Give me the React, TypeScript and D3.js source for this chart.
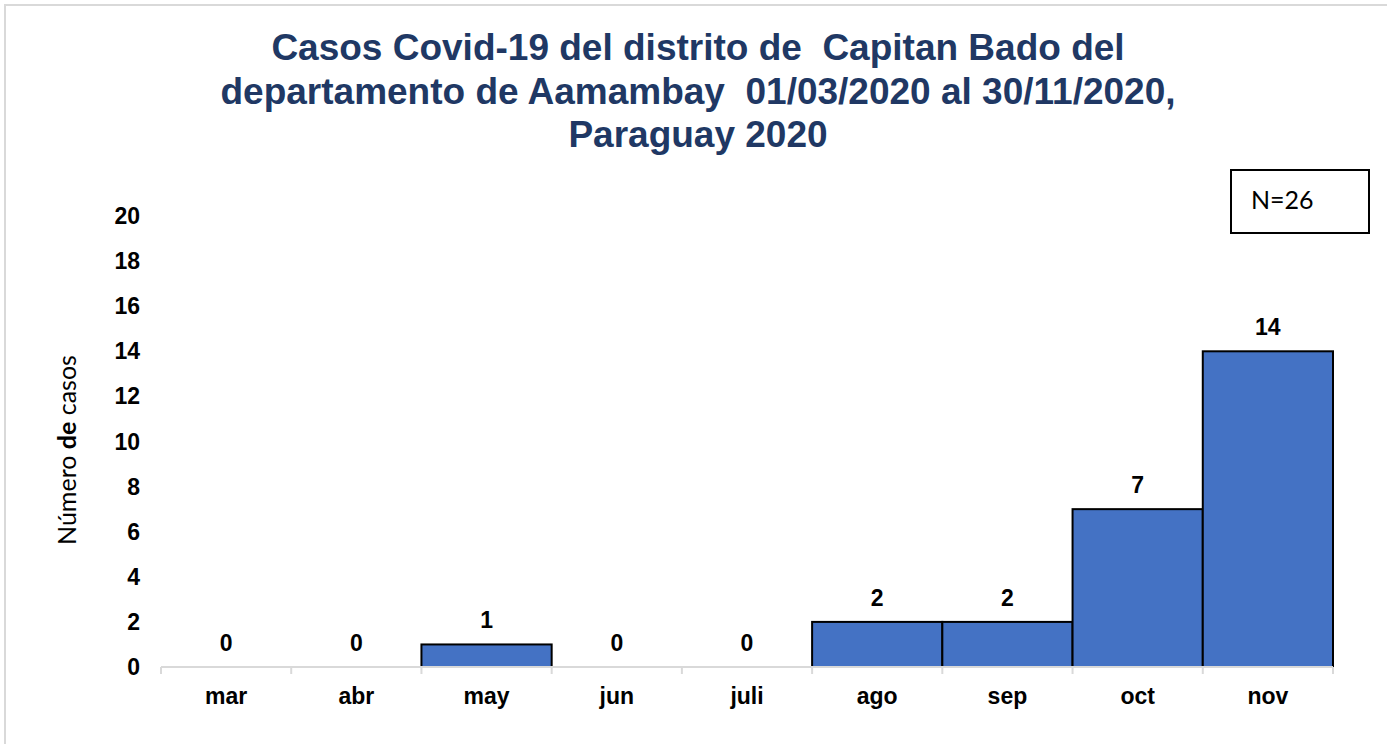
import React, { useEffect, useRef } from 'react';
import * as d3 from 'd3';

const months: string[] = ['mar', 'abr', 'may', 'jun', 'juli', 'ago', 'sep', 'oct', 'nov'];
const cases: number[] = [0, 0, 1, 0, 0, 2, 2, 7, 14];
const yTicks: number[] = [0, 2, 4, 6, 8, 10, 12, 14, 16, 18, 20];
const titleLines: string[] = [
  'Casos Covid-19 del distrito de  Capitan Bado del',
  'departamento de Aamambay  01/03/2020 al 30/11/2020,',
  'Paraguay 2020',
];
const totalLabel = 'N=26';

const W = 1387;
const H = 744;
const ARIAL = 'Liberation Sans, Arial, sans-serif';
const CALIBRI = 'Lato, Open Sans, sans-serif';

export default function App() {
  const ref = useRef<SVGSVGElement | null>(null);

  useEffect(() => {
    const svg = d3.select(ref.current);
    svg.selectAll('*').remove();

    // outer chart frame
    svg.append('rect')
      .attr('x', 5).attr('y', 5)
      .attr('width', W).attr('height', H)
      .attr('fill', '#ffffff')
      .attr('stroke', '#d9d9d9')
      .attr('stroke-width', 2);

    const left = 161, right = 1333, top = 216, bottom = 667;

    const x = d3.scaleBand<string>().domain(months).range([left, right]).padding(0);
    const y = d3.scaleLinear().domain([0, 20]).range([bottom, top]);
    const rows = months.map((m, i) => ({ m, v: cases[i] }));

    // title
    svg.append('text')
      .attr('text-anchor', 'middle')
      .attr('font-family', ARIAL)
      .attr('font-weight', 'bold')
      .attr('font-size', 37)
      .attr('fill', '#203864')
      .style('white-space', 'pre')
      .selectAll('tspan')
      .data(titleLines)
      .enter()
      .append('tspan')
      .attr('x', 698)
      .attr('y', (d, i) => 60 + i * 43.5)
      .text(d => d);

    // bars
    svg.append('g')
      .selectAll('rect')
      .data(rows.filter(d => d.v > 0))
      .enter()
      .append('rect')
      .attr('x', d => x(d.m)!)
      .attr('y', d => y(d.v))
      .attr('width', x.bandwidth())
      .attr('height', d => bottom - y(d.v))
      .attr('fill', '#4472c4')
      .attr('stroke', '#000000')
      .attr('stroke-width', 2);

    // x axis line + category separators
    const xAxis = svg.append('g').attr('transform', `translate(0,${bottom})`);
    xAxis.append('line')
      .attr('x1', left).attr('x2', right)
      .attr('y1', 0).attr('y2', 0)
      .attr('stroke', '#d9d9d9').attr('stroke-width', 2);
    xAxis.selectAll('line.sep')
      .data(d3.range(months.length + 1))
      .enter()
      .append('line')
      .attr('class', 'sep')
      .attr('x1', i => left + i * x.step())
      .attr('x2', i => left + i * x.step())
      .attr('y1', 0).attr('y2', 7)
      .attr('stroke', '#d9d9d9').attr('stroke-width', 2);

    svg.append('g')
      .selectAll('text')
      .data(months)
      .enter()
      .append('text')
      .attr('x', d => x(d)! + x.bandwidth() / 2)
      .attr('y', 704)
      .attr('text-anchor', 'middle')
      .attr('font-family', ARIAL)
      .attr('font-weight', 'bold')
      .attr('font-size', 23)
      .attr('fill', '#000')
      .text(d => d);

    // y axis labels
    svg.append('g')
      .selectAll('text')
      .data(yTicks)
      .enter()
      .append('text')
      .attr('x', 140)
      .attr('y', d => y(d) + 8)
      .attr('text-anchor', 'end')
      .attr('font-family', ARIAL)
      .attr('font-weight', 'bold')
      .attr('font-size', 23)
      .attr('fill', '#000')
      .text(d => d);

    // value labels
    svg.append('g')
      .selectAll('text')
      .data(rows)
      .enter()
      .append('text')
      .attr('x', d => x(d.m)! + x.bandwidth() / 2)
      .attr('y', d => y(d.v) - 16)
      .attr('text-anchor', 'middle')
      .attr('font-family', ARIAL)
      .attr('font-weight', 'bold')
      .attr('font-size', 23)
      .attr('fill', '#000')
      .text(d => d.v);

    // y axis title
    const yt = svg.append('text')
      .attr('transform', 'translate(76,450) rotate(-90)')
      .attr('text-anchor', 'middle')
      .attr('font-family', CALIBRI)
      .attr('font-size', 25)
      .attr('fill', '#000');
    yt.append('tspan').text('Número ');
    yt.append('tspan').attr('font-weight', 'bold').text('de');
    yt.append('tspan').text(' casos');

    // N box
    svg.append('rect')
      .attr('x', 1231).attr('y', 170)
      .attr('width', 138).attr('height', 63)
      .attr('fill', '#fff')
      .attr('stroke', '#000')
      .attr('stroke-width', 2);
    svg.append('text')
      .attr('x', 1251).attr('y', 209)
      .attr('font-family', CALIBRI)
      .attr('font-size', 25)
      .attr('fill', '#000')
      .text(totalLabel);
  }, []);

  return (
    <svg ref={ref} width={W} height={H} style={{ position: 'absolute', left: 0, top: 0, background: '#fff' }} />
  );
}
